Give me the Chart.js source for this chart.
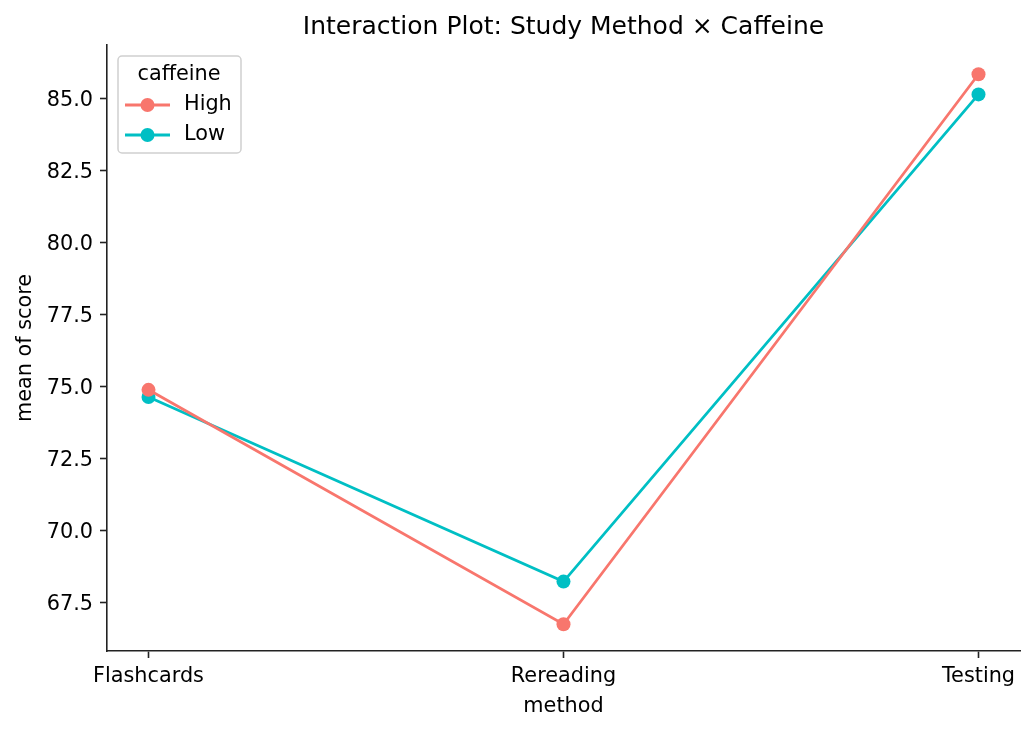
<!DOCTYPE html>
<html>
<head>
<meta charset="utf-8">
<script src="https://cdn.jsdelivr.net/npm/chart.js@4/dist/chart.umd.min.js"></script>
<style>
  html, body { margin: 0; padding: 0; background: #fff; }
  canvas { display: block; }
</style>
</head>
<body>
<canvas id="chart" width="1035" height="732"></canvas>
<script>
// data
const methods = ['Flashcards', 'Rereading', 'Testing'];
const highScores = [74.9, 66.76, 85.86];
const lowScores = [74.65, 68.24, 85.16];
const yTicks = [67.5, 70.0, 72.5, 75.0, 77.5, 80.0, 82.5, 85.0];
const groups = ['High', 'Low'];

const HIGH = '#F8766D';
const LOW = '#00BFC4';
const INK = '#222';
const FONT = '"DejaVu Sans", sans-serif';

const toPoints = vals => vals.map((v, i) => ({ x: i, y: v }));

// title, axis titles and legend drawn on top, matplotlib style
const decor = {
    id: 'decor',
    afterDraw(chart) {
        const { ctx, chartArea: a } = chart;
        ctx.save();
        ctx.fillStyle = '#000';
        ctx.textAlign = 'center';
        ctx.textBaseline = 'middle';

        ctx.font = '25px ' + FONT;
        ctx.fillText('Interaction Plot: Study Method \u00d7 Caffeine', (a.left + a.right) / 2, 27);

        ctx.font = '20.8px ' + FONT;
        ctx.fillText('method', (a.left + a.right) / 2, 707);

        ctx.save();
        ctx.translate(26, (a.top + a.bottom) / 2);
        ctx.rotate(-Math.PI / 2);
        ctx.fillText('mean of score', 0, 0);
        ctx.restore();

        // legend box
        const bx = 118, by = 56, bw = 123, bh = 97, r = 4;
        ctx.beginPath();
        ctx.moveTo(bx + r, by);
        ctx.arcTo(bx + bw, by, bx + bw, by + bh, r);
        ctx.arcTo(bx + bw, by + bh, bx, by + bh, r);
        ctx.arcTo(bx, by + bh, bx, by, r);
        ctx.arcTo(bx, by, bx + bw, by, r);
        ctx.closePath();
        ctx.fillStyle = 'rgba(255,255,255,0.8)';
        ctx.fill();
        ctx.strokeStyle = '#d0d0d0';
        ctx.lineWidth = 1.5;
        ctx.stroke();

        ctx.fillStyle = '#000';
        ctx.fillText('caffeine', 179, 75);

        const colors = [HIGH, LOW];
        const rows = [105, 135];
        groups.forEach((g, i) => {
            const y = rows[i];
            ctx.strokeStyle = colors[i];
            ctx.lineWidth = 2.8;
            ctx.beginPath();
            ctx.moveTo(125, y);
            ctx.lineTo(170, y);
            ctx.stroke();
            ctx.fillStyle = colors[i];
            ctx.beginPath();
            ctx.arc(147.5, y, 7, 0, Math.PI * 2);
            ctx.fill();
            ctx.fillStyle = '#000';
            ctx.textAlign = 'left';
            ctx.fillText(g, 184, y);
        });
        ctx.restore();
    }
};

new Chart(document.getElementById('chart'), {
    type: 'line',
    data: {
        datasets: [
            {
                label: 'High',
                data: toPoints(highScores),
                borderColor: HIGH,
                backgroundColor: HIGH,
                borderWidth: 2.8,
                pointRadius: 7,
                pointBorderWidth: 0,
                pointHoverRadius: 7
            },
            {
                label: 'Low',
                data: toPoints(lowScores),
                borderColor: LOW,
                backgroundColor: LOW,
                borderWidth: 2.8,
                pointRadius: 7,
                pointBorderWidth: 0,
                pointHoverRadius: 7
            }
        ]
    },
    options: {
        responsive: false,
        animation: false,
        devicePixelRatio: 1,
        layout: { padding: { top: 45, right: 15, left: 0, bottom: 0 } },
        plugins: {
            legend: { display: false },
            tooltip: { enabled: false },
            title: { display: false }
        },
        scales: {
            x: {
                type: 'linear',
                min: -0.1,
                max: 2.1,
                afterBuildTicks: s => { s.ticks = methods.map((m, i) => ({ value: i })); },
                afterFit: s => { s.height = 81; },
                ticks: {
                    callback: v => methods[v],
                    color: '#000',
                    font: { family: FONT, size: 20.8 },
                    padding: 6,
                    maxRotation: 0
                },
                grid: { drawOnChartArea: false, drawTicks: true, tickLength: 7, color: INK, tickWidth: 1.6 },
                border: { color: INK, width: 1.6 }
            },
            y: {
                type: 'linear',
                min: 65.83,
                max: 86.875,
                afterBuildTicks: s => { s.ticks = yTicks.map(v => ({ value: v })); },
                afterFit: s => { s.width = 107; },
                ticks: {
                    callback: v => v.toFixed(1),
                    color: '#000',
                    font: { family: FONT, size: 20.8 },
                    padding: 7,
                    labelOffset: 2
                },
                grid: { drawOnChartArea: false, drawTicks: true, tickLength: 7, color: INK, tickWidth: 1.6 },
                border: { color: INK, width: 1.6 }
            }
        }
    },
    plugins: [decor]
});
</script>
</body>
</html>
